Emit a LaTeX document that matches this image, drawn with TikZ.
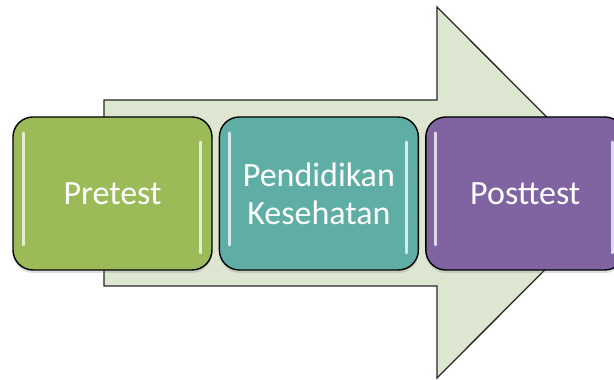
\documentclass[tikz,border=0pt]{standalone}
\usepackage{fontspec}
\setmainfont{Carlito}
\usetikzlibrary{positioning,shadows}

\definecolor{arrowfill}{HTML}{DDE6D0}
\definecolor{stepgreen}{HTML}{9BBB59}
\definecolor{stepteal}{HTML}{5FAEA6}
\definecolor{steppurple}{HTML}{8064A2}

\begin{document}
\begin{tikzpicture}[
  x=1pt, y=1pt,
  font=\fontsize{34}{38}\selectfont,
  stage/.style ={draw=black, line width=1.4pt, rounded corners=20pt,
                 minimum width=199pt, minimum height=153pt, inner sep=2pt,
                 align=center, text=white,
                 drop shadow={opacity=0.25, shadow xshift=0pt, shadow yshift=-3pt},
                 path picture={
                   \draw[white, opacity=0.75, line width=3pt, line cap=round]
                     ([xshift=10pt, yshift=-16pt]path picture bounding box.north west)
                     -- ([xshift=10pt, yshift=25pt]path picture bounding box.south west);
                   \draw[white, opacity=0.75, line width=3pt, line cap=round]
                     ([xshift=-12pt, yshift=-25pt]path picture bounding box.north east)
                     -- ([xshift=-12pt, yshift=17pt]path picture bounding box.south east);
                 }},
  flow/.style  ={fill=arrowfill, draw=black!85, line width=1.3pt, line join=miter},
]
\useasboundingbox (0,0) rectangle (614,380);
\clip (0,0) rectangle (614,380);

% --- big arrow behind the stages ---
\draw[flow] (104,280) -- (437,280) -- (437,373) -- (622,187.5)
  -- (437,2) -- (437,94) -- (104,94) -- cycle;

% --- stages ---
\node[stage, fill=stepgreen] (pre) at (112.5,186.5) {Pretest};
\node[stage, fill=stepteal, right=6pt of pre] (edu) {Pendidikan\\Kesehatan};
\node[stage, fill=steppurple, right=6pt of edu] (post) {Posttest};
\end{tikzpicture}
\end{document}
